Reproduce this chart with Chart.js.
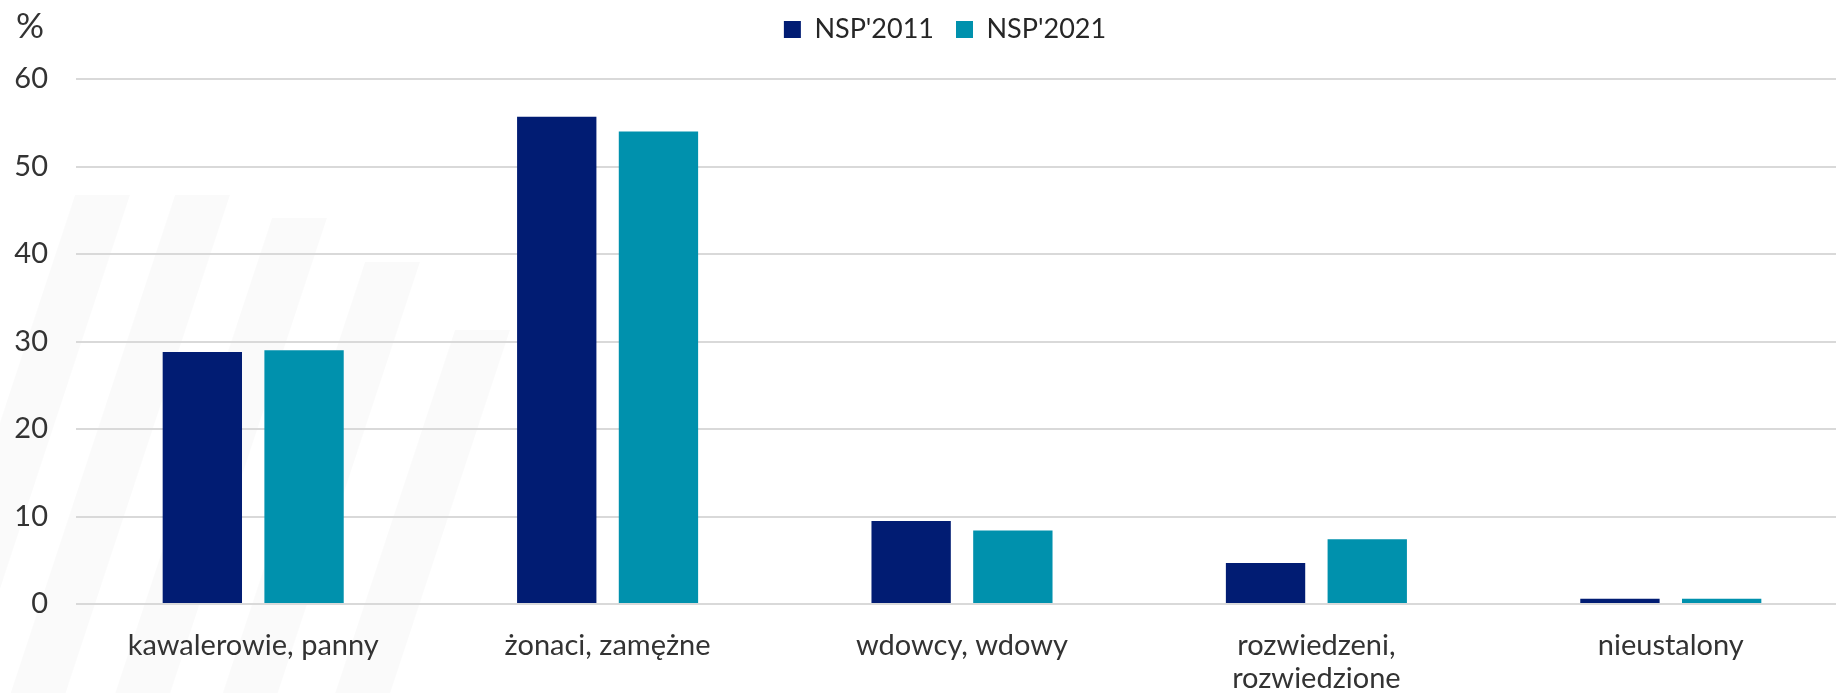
<!DOCTYPE html>
<html>
<head>
<meta charset="utf-8">
<script src="https://cdn.jsdelivr.net/npm/chart.js@4/dist/chart.umd.min.js"></script>
<style>
  html, body { margin: 0; padding: 0; background: #ffffff; overflow: hidden; }
  #wrap { width: 1836px; height: 693px; position: relative; overflow: hidden; }
  #c { position: absolute; left: 0; top: 0; }
</style>
</head>
<body>
<div id="wrap"><canvas id="c" width="1848" height="693"></canvas></div>
<script>
const categories = [
  "kawalerowie, panny",
  "żonaci, zamężne",
  "wdowcy, wdowy",
  ["rozwiedzeni,", "rozwiedzione"],
  "nieustalony"
];
const seriesNames = ["NSP'2011", "NSP'2021"];
const values2011 = [28.8, 55.7, 9.5, 4.7, 0.6];
const values2021 = [29.0, 54.0, 8.4, 7.4, 0.6];
const yTicks = [0, 10, 20, 30, 40, 50, 60];
const unitLabel = "%";

const FONT = "Lato, 'Open Sans', sans-serif";

const stripesPlugin = {
  id: 'stripes',
  beforeDraw(chart) {
    const ctx = chart.ctx;
    ctx.save();
    ctx.fillStyle = 'rgba(0,0,0,0.02)';
    const stripes = [
      [75, 195], [175, 195], [272, 218], [365, 262], [455, 330]
    ];
    const w = 55, slope = 0.33, bottom = 693;
    stripes.forEach(([x, yTop]) => {
      const dx = (bottom - yTop) * slope;
      ctx.beginPath();
      ctx.moveTo(x, yTop);
      ctx.lineTo(x + w, yTop);
      ctx.lineTo(x + w - dx, bottom);
      ctx.lineTo(x - dx, bottom);
      ctx.closePath();
      ctx.fill();
    });
    ctx.restore();
  }
};

const unitPlugin = {
  id: 'unitLabel',
  afterDraw(chart) {
    const ctx = chart.ctx;
    ctx.save();
    ctx.font = "35px " + FONT;
    ctx.fillStyle = '#333333';
    ctx.textBaseline = 'alphabetic';
    ctx.textAlign = 'left';
    ctx.fillText(unitLabel, 16, 38);
    ctx.restore();
  }
};

const legendShift = {
  id: 'legendShift',
  afterLayout(chart) {
    const lg = chart.legend;
    if (lg) { lg.left += 14; lg.right += 14; lg.top -= 26; lg.bottom -= 26; }
  }
};

new Chart(document.getElementById('c'), {
  type: 'bar',
  data: {
    labels: categories,
    datasets: [
      { label: seriesNames[0], data: values2011, backgroundColor: '#011c73', borderWidth: 0,
        categoryPercentage: 0.574, barPercentage: 0.78 },
      { label: seriesNames[1], data: values2021, backgroundColor: '#0091ad', borderWidth: 0,
        categoryPercentage: 0.574, barPercentage: 0.78 }
    ]
  },
  options: {
    responsive: false,
    animation: false,
    layout: { padding: { left: 14, right: 0, top: 20, bottom: 0 } },
    plugins: {
      legend: {
        position: 'top',
        labels: {
          font: { family: FONT, size: 27 },
          color: '#262626',
          boxWidth: 17,
          boxHeight: 17,
          padding: 22,
          useBorderRadius: false
        }
      },
      tooltip: { enabled: false }
    },
    scales: {
      x: {
        grid: { display: false },
        border: { display: false },
        afterFit(scale) { scale.height = 89; },
        ticks: {
          font: { family: FONT, size: 29, lineHeight: 1.13 },
          color: '#333333',
          padding: 17,
          maxRotation: 0,
          autoSkip: false
        }
      },
      y: {
        min: 0,
        max: 60,
        afterBuildTicks(scale) { scale.ticks = yTicks.map(v => ({ value: v })); },
        afterFit(scale) { scale.width = 62; },
        grid: { color: '#d9d9d9', lineWidth: 2, drawTicks: false },
        border: { display: false },
        ticks: {
          font: { family: FONT, size: 29 },
          color: '#333333',
          padding: 28
        }
      }
    }
  },
  plugins: [stripesPlugin, unitPlugin, legendShift]
});
</script>
</body>
</html>
